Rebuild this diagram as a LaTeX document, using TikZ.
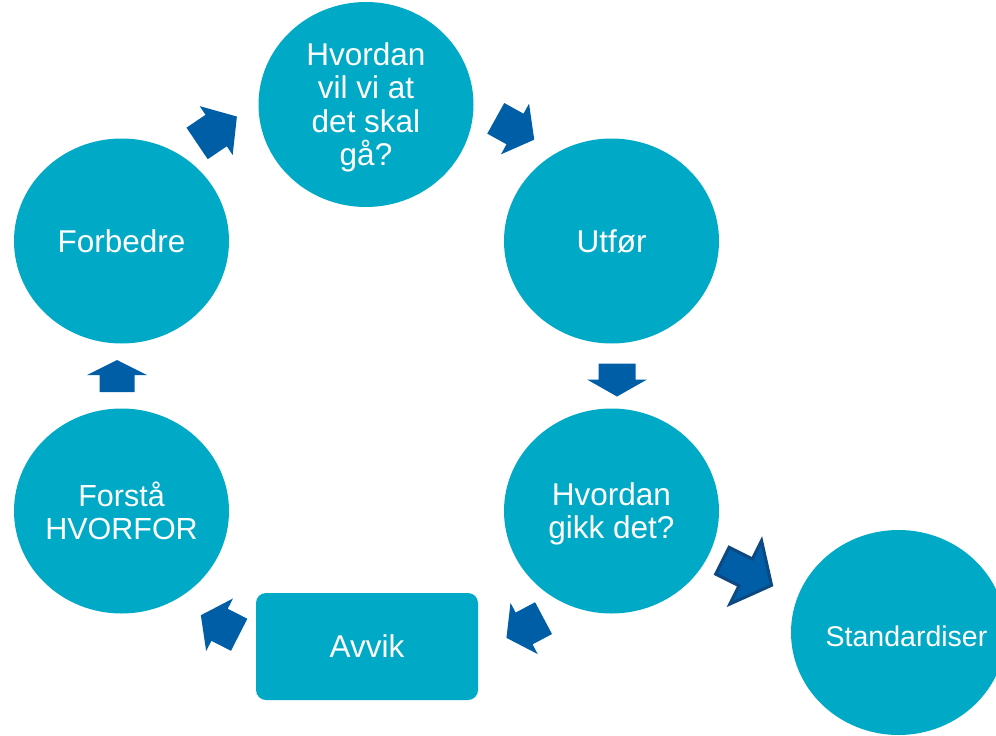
\documentclass[tikz,border=0pt]{standalone}
\usepackage{fontspec}
\setmainfont{Liberation Sans}
\usepackage{tikz}
\usetikzlibrary{shapes.geometric}

\definecolor{stegfarge}{RGB}{0,169,198}
\definecolor{pilfarge}{RGB}{0,94,166}
\definecolor{pilkant}{RGB}{14,72,128}

% block arrow pointing along +x: length, head length, head width, shaft width
\tikzset{
  pics/blokkpil/.style n args={4}{code={
    \path[pic actions] ({-#1/2},{-#4/2}) -- ({#1/2-#2},{-#4/2}) -- ({#1/2-#2},{-#3/2})
      -- ({#1/2},0) -- ({#1/2-#2},{#3/2}) -- ({#1/2-#2},{#4/2}) -- ({-#1/2},{#4/2}) -- cycle;
  }}
}

\begin{document}
\begin{tikzpicture}[x=1pt,y=-1pt]
\tikzstyle{every node}=[font=\fontsize{31.5}{33.5}\selectfont,text=white,align=center,inner sep=0pt]
\tikzstyle{steg}=[ellipse,fill=stegfarge,minimum width=215pt,minimum height=205pt]
\tikzstyle{pil}=[fill=pilfarge]
\clip (0,0) rectangle (996,736);

\node[steg,label={[yshift=-3pt]center:{Hvordan\\vil vi at\\det skal\\gå?}}] (maal) at (366,104.5) {};
\node[steg,label=center:Forbedre] (forbedre) at (121.5,241) {};
\node[steg,label=center:Utfør] (utfor) at (611.5,241) {};
\node[steg,label={[yshift=-3pt]center:{Hvordan\\gikk det?}}] (gikk) at (611.5,511) {};
\node[steg,label={[font=\fontsize{30.5}{32.5}\selectfont]center:{Forstå\\HVORFOR}}] (hvorfor) at (121.5,511) {};
\node[fill=stegfarge,rounded corners=10pt,minimum width=222pt,minimum height=107pt] (avvik) at (367,646.5) {Avvik};
\node[steg,label={[xshift=8pt,yshift=-4pt,font=\fontsize{28.5}{30}\selectfont]center:Standardiser}] (standard) at (898.5,632.5) {};

% arrows round the circle
\pic[pil,rotate=34] at (217,130) {blokkpil={48}{25}{59}{38}};
\pic[pil,rotate=-29] at (515,129) {blokkpil={44}{22}{58}{35}};
\pic[pil,rotate=-90] at (617,380) {blokkpil={33}{17}{60}{37}};
\pic[pil,rotate=-152] at (525,628) {blokkpil={42}{20}{58}{36}};
\pic[pil,rotate=153] at (220,625) {blokkpil={43}{21}{59}{36}};
\pic[pil,rotate=90] at (117,376) {blokkpil={32}{15}{60}{35}};
% out to Standardiser
\pic[fill=pilfarge,draw=pilkant,line width=3pt,rotate=-26.6] at (747,573) {blokkpil={55}{29}{71}{30}};

\end{tikzpicture}
\end{document}
